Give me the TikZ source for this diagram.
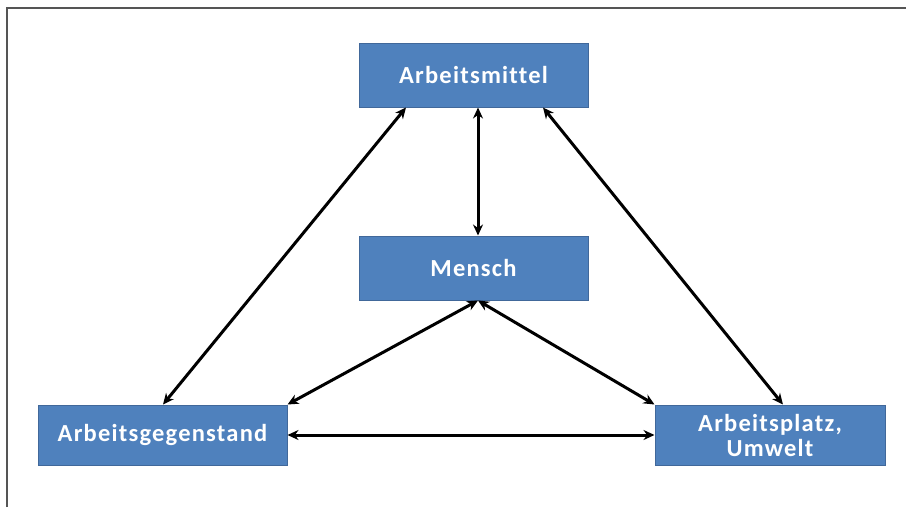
\documentclass[tikz,border=0pt]{standalone}
\usepackage{fontspec}
\setmainfont{Carlito}
\newfontfamily\boxfont[LetterSpace=5,Ligatures=NoCommon]{Carlito}
\usetikzlibrary{arrows.meta}
\definecolor{boxfill}{HTML}{4F81BD}
\definecolor{boxline}{HTML}{41689A}
\definecolor{framec}{HTML}{555555}
\begin{document}
\begin{tikzpicture}[x=1pt,y=-1pt,
  box/.style={draw=boxline, line width=1pt, fill=boxfill, text=white, font=\boxfont\bfseries\fontsize{24.5}{25}\selectfont, align=center, inner sep=0pt},
  link/.style={line width=3pt, {Stealth[length=11pt,width=10pt]}-{Stealth[length=11pt,width=10pt]}}]
\useasboundingbox (0,0) rectangle (906,507);
\draw[framec, line width=2pt] (7,507) -- (7,8) -- (906,8);
\node[box, minimum width=229pt, minimum height=64pt] (am) at (473.5,75) {Arbeitsmittel};
\node[box, minimum width=229pt, minimum height=64pt] (me) at (473.5,268) {Mensch};
\node[box, minimum width=249pt, minimum height=60pt] (ag) at (162.5,435) {Arbeitsgegenstand};
\node[box, minimum width=230pt, minimum height=60pt] (ap) at (770,435) {Arbeitsplatz,\\Umwelt};
\draw[link] (am.south -| 406,0) -- (ag.north -| 163,0);
\draw[link] (am.south -| 478,0) -- (me.north -| 478,0);
\draw[link] (am.south -| 543,0) -- (ap.north -| 783,0);
\draw[link] (me.south -| 478,0) -- (ag.north east);
\draw[link] (me.south -| 478,0) -- (ap.north west);
\draw[link] (ag.east) -- (ap.west);
\end{tikzpicture}
\end{document}
